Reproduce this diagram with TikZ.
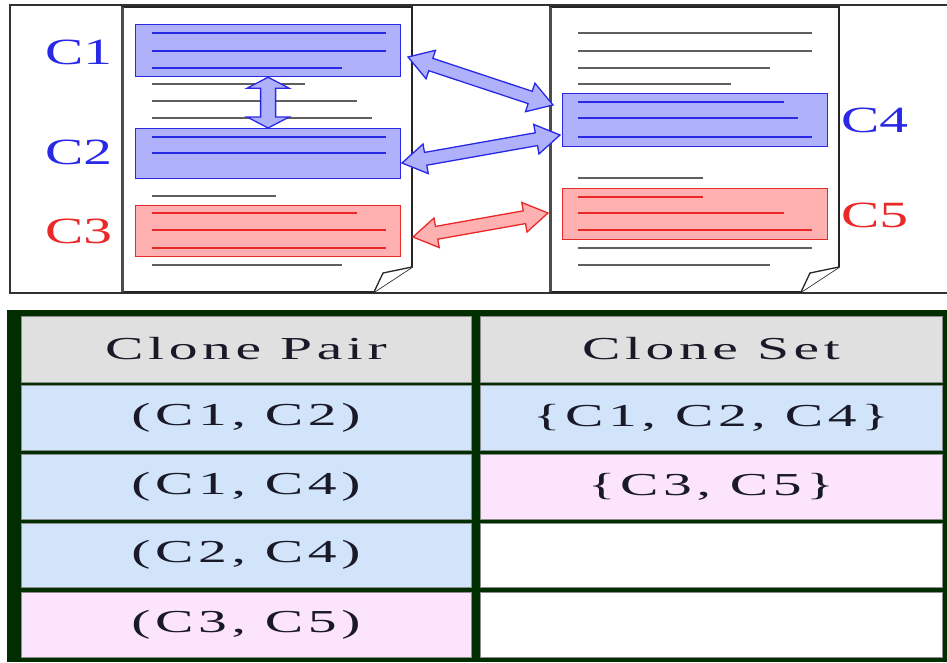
\documentclass[tikz,border=0pt]{standalone}
\usepackage{fontspec}
\usepackage{graphicx}
\setmainfont{Liberation Serif}
\newfontfamily\tabfont[LetterSpace=8]{Liberation Serif}
\usetikzlibrary{calc}

\definecolor{cblue}{RGB}{40,40,230}
\definecolor{cbluefill}{RGB}{175,177,250}
\definecolor{cred}{RGB}{235,40,40}
\definecolor{credfill}{RGB}{255,176,176}
\definecolor{tgreen}{RGB}{0,46,0}
\definecolor{thead}{RGB}{224,224,224}
\definecolor{tblue}{RGB}{210,228,250}
\definecolor{tpink}{RGB}{253,228,253}
\definecolor{ttext}{RGB}{25,25,40}
\definecolor{docline}{RGB}{95,95,95}
\definecolor{frameline}{RGB}{50,50,50}

% horizontally widened text
\newcommand\widetext[1]{\scalebox{1.55}[1]{#1}}
\newcommand\tabtext[1]{\scalebox{1.8}[1]{#1}}

% block double arrow between two named points; uses \fhl (head length),
% \fhw (head half width) and \fsw (shaft half width), all in pt
\newcommand\fatarrow[3]{%
  \path (#1); \pgfgetlastxy{\fax}{\fay}%
  \path (#2); \pgfgetlastxy{\fbx}{\fby}%
  \pgfmathsetmacro\faang{atan2(\fby-\fay,\fbx-\fax)}%
  \pgfmathsetmacro\falen{veclen(\fbx-\fax,\fby-\fay)}%
  \begin{scope}[shift={(#1)}, rotate=\faang, x=1pt, y=1pt]
    \draw[#3] (0,0) -- (\fhl,\fhw) -- (\fhl,\fsw) -- (\falen-\fhl,\fsw)
      -- (\falen-\fhl,\fhw) -- (\falen,0) -- (\falen-\fhl,-\fhw)
      -- (\falen-\fhl,-\fsw) -- (\fhl,-\fsw) -- (\fhl,-\fhw) -- cycle;
  \end{scope}}

\tikzset{
  docedge/.style={draw=black!85, line width=1.6pt, fill=white, line join=miter},
  docshadow/.style={draw=black!70, line width=3pt},
  bluebox/.style={draw=cblue, line width=1.2pt, fill=cbluefill, anchor=north west, inner sep=0pt},
  redbox/.style={draw=cred, line width=1.2pt, fill=credfill, anchor=north west, inner sep=0pt},
  gline/.style={draw=docline, line width=1.5pt},
  bline/.style={draw=cblue, line width=1.4pt},
  rline/.style={draw=cred, line width=1.4pt},
  bluelabel/.style={text=cblue, font=\fontsize{37}{40}\selectfont, anchor=west, inner sep=0pt},
  redlabel/.style={text=cred, font=\fontsize{37}{40}\selectfont, anchor=west, inner sep=0pt},
  bluearrow/.style={draw=cblue, fill=cbluefill, line width=1.3pt, line join=miter},
  redarrow/.style={draw=cred, fill=credfill, line width=1.3pt, line join=miter},
  cell/.style={draw=black!45, line width=0.8pt, inner sep=0pt, text=ttext,
    font=\tabfont\fontsize{32}{36}\selectfont},
}

\begin{document}
\begin{tikzpicture}[x=1pt, y=-1pt]
\useasboundingbox (0,0) rectangle (947,662);

% ---------- upper panel: two source files ----------
\draw[frameline, line width=1.6pt] (947,5) -- (10,5) -- (10,293) -- (947,293);

% file 1
\draw[docedge] (122,7) -- (412,7) -- (412,267) -- (374,292) -- (122,292) -- cycle;
\draw[docedge, line width=1.3pt] (412,267) -- (383,273) -- (374,292);
\draw[docshadow] (122,7) -- (122,292);

% file 2
\draw[docedge] (550,7) -- (839,7) -- (839,267) -- (801,292) -- (550,292) -- cycle;
\draw[docedge, line width=1.3pt] (839,267) -- (810,273) -- (801,292);
\draw[docshadow] (550,7) -- (550,292);

% code fragments
\node[bluebox, minimum width=265pt, minimum height=52pt] (c1) at (135,24) {};
\node[bluebox, minimum width=265pt, minimum height=50pt] (c2) at (135,128) {};
\node[redbox,  minimum width=265pt, minimum height=51pt] (c3) at (135,205) {};
\node[bluebox, minimum width=265pt, minimum height=53pt] (c4) at (562,93) {};
\node[redbox,  minimum width=265pt, minimum height=51pt] (c5) at (562,188) {};

% text lines of file 1
\draw[bline] (152,33) -- (386,33) (152,51) -- (386,51) (152,68) -- (342,68);
\draw[gline] (152,84) -- (305,84) (152,101) -- (357,101) (152,118) -- (372,118);
\draw[bline] (152,137) -- (386,137) (152,153) -- (386,153);
\draw[gline] (152,196) -- (276,196);
\draw[rline] (152,213) -- (357,213) (152,230) -- (386,230) (152,248) -- (386,248);
\draw[gline] (152,265) -- (342,265);

% text lines of file 2
\draw[gline] (578,33) -- (812,33) (578,51) -- (812,51) (578,68) -- (770,68) (578,84) -- (731,84);
\draw[bline] (578,102) -- (784,102) (578,118) -- (798,118) (578,137) -- (812,137);
\draw[gline] (578,178) -- (703,178);
\draw[rline] (578,197) -- (703,197) (578,213) -- (784,213) (578,230) -- (812,230);
\draw[gline] (578,248) -- (812,248) (578,265) -- (770,265);

% fragment labels
\node[bluelabel] (l1) at (45,52) {\widetext{C1}};
\node[bluelabel] (l2) at (45,152) {\widetext{C2}};
\node[redlabel]  (l3) at (45,231) {\widetext{C3}};
\node[bluelabel] (l4) at (841,120) {\widetext{C4}};
\node[redlabel]  (l5) at (841,215) {\widetext{C5}};

% clone relations
\coordinate (a1s) at (408,57);  \coordinate (a1e) at (553,105);
\coordinate (a2s) at (402,163); \coordinate (a2e) at (560,135);
\coordinate (a3s) at (413,237); \coordinate (a3e) at (548,213);

\def\fhl{11}\def\fhw{21}\def\fsw{7.5}
\fatarrow{c1.south}{c2.north}{bluearrow}
\def\fhl{24}\def\fhw{15}\def\fsw{6.5}
\fatarrow{a1s}{a1e}{bluearrow}
\fatarrow{a2s}{a2e}{bluearrow}
\fatarrow{a3s}{a3e}{redarrow}

% ---------- lower panel: table ----------
\fill[tgreen] (7,310) rectangle (947,662);

\node[cell, fill=thead, minimum width=450pt, minimum height=66pt] (h1) at (246,349) {\tabtext{Clone Pair}};
\node[cell, fill=thead, minimum width=462pt, minimum height=66pt] (h2) at (711,349) {\tabtext{Clone Set}};

\node[cell, fill=tblue, minimum width=450pt, minimum height=65pt] (p1) at (246,417.5) {\tabtext{(C1, C2)}};
\node[cell, fill=tblue, minimum width=450pt, minimum height=65pt] (p2) at (246,486.5) {\tabtext{(C1, C4)}};
\node[cell, fill=tblue, minimum width=450pt, minimum height=64pt] (p3) at (246,555) {\tabtext{(C2, C4)}};
\node[cell, fill=tpink, minimum width=450pt, minimum height=65pt] (p4) at (246,624.5) {\tabtext{(C3, C5)}};

\node[cell, fill=tblue, minimum width=462pt, minimum height=65pt] (s1) at (711,417.5) {\tabtext{\{C1, C2, C4\}}};
\node[cell, fill=tpink, minimum width=462pt, minimum height=65pt] (s2) at (711,486.5) {\tabtext{\{C3, C5\}}};
\node[cell, fill=white, minimum width=462pt, minimum height=64pt] (s3) at (711,555) {};
\node[cell, fill=white, minimum width=462pt, minimum height=65pt] (s4) at (711,624.5) {};
\end{tikzpicture}
\end{document}
